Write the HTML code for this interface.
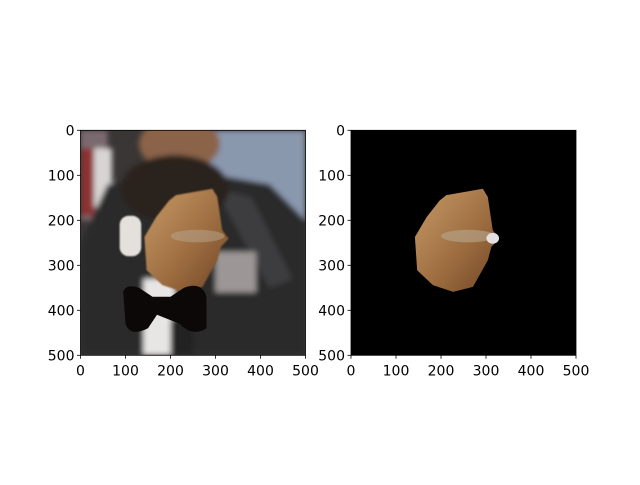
<!DOCTYPE html>
<html><head><style>
body{margin:0;background:#fff;}
svg text{font-family:"DejaVu Sans","Liberation Sans",sans-serif;font-size:14px;fill:#000;}
</style></head><body>
<svg width="640" height="480">
<defs>
<filter id="bl"><feGaussianBlur stdDeviation="6"/></filter>
<filter id="bl2"><feGaussianBlur stdDeviation="2"/></filter>
<clipPath id="c1"><rect x="0" y="0" width="500" height="500"/></clipPath>
<linearGradient id="skin" x1="0" y1="0" x2="1" y2="1"><stop offset="0" stop-color="#c89a66"/><stop offset="0.6" stop-color="#9a6a3e"/><stop offset="1" stop-color="#6e4424"/></linearGradient>
</defs>
<g id="left-img" transform="translate(80.5,130.3) scale(0.45)" clip-path="url(#c1)">
 <rect width="500" height="500" fill="#3a3636"/>
 <g filter="url(#bl)">
  <rect x="280" y="0" width="220" height="260" fill="#8a98ae"/>
  <rect x="0" y="0" width="60" height="200" fill="#7a6a70"/>
  <rect x="0" y="40" width="30" height="150" fill="#8a3030"/>
  <rect x="30" y="40" width="40" height="130" fill="#d8d4d4"/>
  <ellipse cx="220" cy="30" rx="90" ry="60" fill="#8a6448"/>
  <path d="M60 120 L250 90 L420 120 L500 200 L500 500 L0 500 L0 250 Z" fill="#2c2a2c"/>
  <path d="M300 130 L380 150 L470 330 L420 350 Z" fill="#3e3c40"/>
  <rect x="300" y="270" width="90" height="90" fill="#9c9696"/>
  <ellipse cx="210" cy="130" rx="120" ry="75" fill="#2a201c"/>
  <rect x="140" y="330" width="70" height="170" fill="#e8e6e4"/>
  <rect x="200" y="420" width="50" height="80" fill="#202024"/>
 </g>
 <polygon filter="url(#bl2)" points="212,144 293,130 304,148 315,222 329,241 312,259 304,289 271,348 227,359 182,344 147,311 142,237 168,193 197,156" fill="url(#skin)"/>
 <ellipse cx="260" cy="235" rx="60" ry="14" fill="#b8a890" opacity="0.5"/>
 <rect x="87" y="190" width="48" height="90" rx="20" fill="#e4e0dc" filter="url(#bl2)"/>
 <path d="M95 360 Q100 340 130 350 L160 370 L200 370 L230 350 Q270 335 280 370 L280 440 Q250 460 220 430 L170 410 L150 440 Q110 460 100 430 Z" fill="#0c0808"/>
</g>
<rect x="80.5" y="130.3" width="225" height="225" fill="none" stroke="#000" stroke-width="0.8"/>
<g id="right-img" transform="translate(351,130.3) scale(0.45)">
 <rect width="500" height="500" fill="#000"/>
 <polygon points="212,144 293,130 304,148 315,222 329,241 312,259 304,289 271,348 227,359 182,344 147,311 142,237 168,193 197,156" fill="url(#skin)"/>
 <ellipse cx="260" cy="235" rx="60" ry="14" fill="#b8a890" opacity="0.6"/>
 <ellipse cx="315" cy="240" rx="14" ry="12" fill="#e4e0e0"/>
</g>
<rect x="351" y="130.3" width="225" height="225" fill="none" stroke="#000" stroke-width="0.8"/>
<g id="ticks"></g>
</svg>
<script>
const tickValues=[0,100,200,300,400,500];
const axesLeft=[80.5,351];
const top0=130.3, size=225, maxV=500;
const g=document.getElementById('ticks');
const NS='http://www.w3.org/2000/svg';
axesLeft.forEach((ax,ai)=>{
 tickValues.forEach(v=>{
  const x=ax+v/maxV*size, y=top0+v/maxV*size;
  let l=document.createElementNS(NS,'line');
  l.setAttribute('x1',x);l.setAttribute('x2',x);l.setAttribute('y1',top0+size);l.setAttribute('y2',top0+size+3.5);l.setAttribute('stroke','#000');l.setAttribute('stroke-width','0.8');
  
  
  g.appendChild(l);
  let t=document.createElementNS(NS,'text');
  t.setAttribute('x',x);t.setAttribute('y',top0+size+20);t.setAttribute('text-anchor','middle');t.textContent=v;
  
  
  g.appendChild(t);
  let l2=document.createElementNS(NS,'line');
  l2.setAttribute('x1',ax-3.5);l2.setAttribute('x2',ax);l2.setAttribute('y1',y);l2.setAttribute('y2',y);l2.setAttribute('stroke','#000');l2.setAttribute('stroke-width','0.8');
  
  
  g.appendChild(l2);
  let t2=document.createElementNS(NS,'text');
  t2.setAttribute('x',ax-6);t2.setAttribute('y',y+5);t2.setAttribute('text-anchor','end');t2.textContent=v;
  
  
  g.appendChild(t2);
 });
});
</script>
</body></html>
